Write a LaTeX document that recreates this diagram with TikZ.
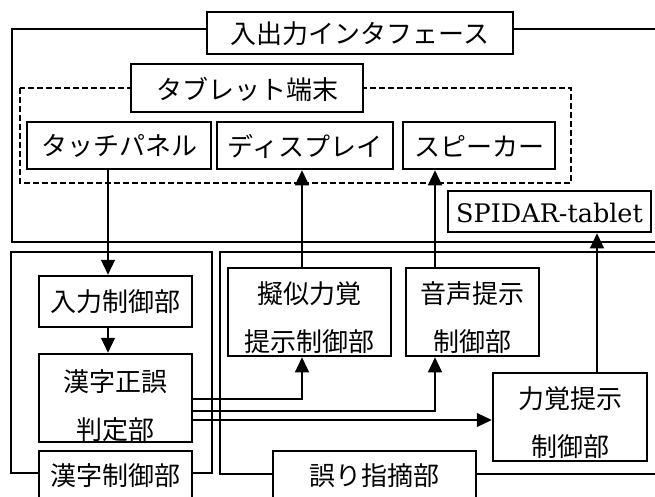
\documentclass[tikz,border=0pt]{standalone}
\usepackage{fontspec}
\setmainfont{DejaVu Serif}
\newfontfamily\jp{Noto Sans CJK JP}
\usetikzlibrary{arrows.meta,calc}
\begin{document}
\begin{tikzpicture}[x=1pt,y=-1pt,
  frame/.style={line width=2.5pt},
  box/.style={draw,line width=2.5pt,fill=white,inner sep=0pt},
  txt/.style={inner sep=0pt,align=center,font=\jp\fontsize{26}{48}\selectfont},
  lat/.style={inner sep=0pt,font=\fontsize{25.5}{28}\selectfont},
  arr/.style={line width=1.2pt,-{Triangle[length=15pt,width=14pt]}},
  wire/.style={line width=1.2pt}]
\useasboundingbox[fill=white] (0,0) rectangle (655,497);
% frames
\draw[frame] (12,29) rectangle (670,242);
\draw[frame,dash pattern=on 6pt off 3pt] (20,88) rectangle (571,183);
\draw[frame] (11,252) rectangle (212,473);
\draw[frame] (220,252) rectangle (670,474);
% frame labels
\node[box,minimum width=306pt,minimum height=42pt] (io) at (360,33) {};
\node[txt] (iot) at (360,34) {入出力インタフェース};
\node[box,minimum width=232pt,minimum height=48pt] (tab) at (247,88) {};
\node[txt] (tabt) at (247,89) {タブレット端末};
\node[box,minimum width=153pt,minimum height=50pt] (kc) at (115.5,476) {};
\node[txt] (kct) at (115.5,476) {漢字制御部};
\node[box,minimum width=203pt,minimum height=50pt] (am) at (374.5,476) {};
\node[txt] (amt) at (374.5,476) {誤り指摘部};
% tablet devices
\node[box,minimum width=184pt,minimum height=47pt] (touch) at (119,145.5) {};
\node[txt] (toucht) at (119,146) {タッチパネル};
\node[box,minimum width=176pt,minimum height=47pt] (disp) at (305,145.5) {};
\node[txt] (dispt) at (305,146) {ディスプレイ};
\node[box,minimum width=152pt,minimum height=47pt] (spk) at (479,145.5) {};
\node[txt] (spkt) at (479,146) {スピーカー};
\node[box,minimum width=203pt,minimum height=41pt] (spidar) at (549.5,211.5) {};
\node[lat] (spidart) at (549.5,213) {SPIDAR-tablet};
% control blocks
\node[box,minimum width=153pt,minimum height=51pt] (inctl) at (115.5,301.5) {};
\node[txt] (inctlt) at (115.5,302) {入力制御部};
\node[box,minimum width=153pt,minimum height=88pt] (kj) at (115.5,398) {};
\node[txt] (kjt) at (115.5,406) {漢字正誤\\判定部};
\node[box,minimum width=163pt,minimum height=88pt] (giji) at (309.5,312) {};
\node[txt] (gijit) at (309.5,318) {擬似力覚\\提示制御部};
\node[box,minimum width=133pt,minimum height=88pt] (onsei) at (472.5,312) {};
\node[txt] (onseit) at (472.5,318) {音声提示\\制御部};
\node[box,minimum width=154pt,minimum height=88pt] (rk) at (570,417) {};
\node[txt] (rkt) at (570,423) {力覚提示\\制御部};
% connector guide coordinates
\coordinate (ax) at (108,0);
\coordinate (gx) at (302,0);
\coordinate (sx) at (435,0);
\coordinate (fx) at (597,0);
\coordinate (y1) at (0,399);
\coordinate (y2) at (0,411);
\coordinate (y3) at (0,420);
% connectors
\draw[arr] (touch.south -| ax) -- (inctl.north -| ax);
\draw[arr] (inctl.south -| ax) -- (kj.north -| ax);
\draw[arr] (kj.east |- y1) -| (giji.south -| gx);
\draw[arr] (kj.east |- y2) -| (onsei.south -| sx);
\draw[arr] (kj.east |- y3) -- (rk.west |- y3);
\draw[arr] (giji.north -| gx) -- (disp.south -| gx);
\draw[arr] (onsei.north -| sx) -- (spk.south -| sx);
\draw[arr] (rk.north -| fx) -- (spidar.south -| fx);
\end{tikzpicture}
\end{document}
